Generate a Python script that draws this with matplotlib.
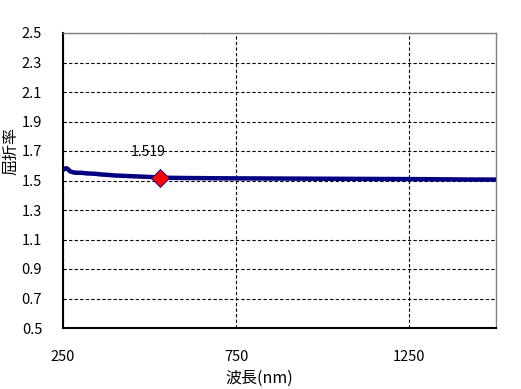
import matplotlib
matplotlib.use("Agg")
import matplotlib.pyplot as plt

plt.rcParams['font.family'] = ['Noto Sans CJK JP', 'DejaVu Sans']

# refractive index curve
wavelength = [250, 255, 260, 265, 270, 280, 290, 300, 320, 340, 360, 380, 400,
              430, 460, 500, 530, 600, 700, 800, 900, 1000, 1100, 1200, 1300,
              1400, 1500]
n_index = [1.572, 1.580, 1.583, 1.576, 1.562, 1.555, 1.552, 1.553, 1.548,
           1.546, 1.541, 1.538, 1.534, 1.531, 1.528, 1.524, 1.519, 1.517,
           1.515, 1.514, 1.513, 1.512, 1.511, 1.510, 1.509, 1.507, 1.506]

marker_wl = 530
marker_n = 1.519
marker_label = '1.519'

x_ticks = [250, 750, 1250]
y_ticks = [0.5, 0.7, 0.9, 1.1, 1.3, 1.5, 1.7, 1.9, 2.1, 2.3, 2.5]

fig = plt.figure(figsize=(5.21, 3.89), dpi=100)
ax = fig.add_axes([63 / 521, 1 - 328 / 389, (496 - 63) / 521, (328 - 33) / 389])

ax.plot(wavelength, n_index, color='#000080', linewidth=3.2, zorder=3)
ax.plot([marker_wl], [marker_n], marker='D', markersize=9,
        markerfacecolor='#ff0000', markeredgecolor='#0000a0',
        markeredgewidth=0.6, linestyle='none', zorder=4)
ax.text(marker_wl - 34, marker_n + 0.175, marker_label, fontsize=10,
        ha='center', va='center', color='#000000')

ax.set_xlim(250, 1500)
ax.set_ylim(0.5, 2.5)
ax.set_xticks(x_ticks)
ax.set_yticks(y_ticks)
ax.set_yticklabels([f'{v:.1f}' for v in y_ticks])
ax.tick_params(length=0, labelsize=10.5, pad=15)
ax.tick_params(axis='x', pad=16)

ax.grid(True, color='black', linestyle=(0, (3, 2)), linewidth=0.8)
ax.set_axisbelow(True)

for side in ['left', 'bottom']:
    ax.spines[side].set_color('black')
    ax.spines[side].set_linewidth(1.5)
for side in ['top', 'right']:
    ax.spines[side].set_color('#808080')
    ax.spines[side].set_linewidth(1.0)

ax.set_xlabel('波長(nm)', fontsize=11.5)
ax.set_ylabel('屈折率', fontsize=11.5)
ax.xaxis.set_label_coords((259 - 63) / 433, (328 - 378) / 295)
ax.yaxis.set_label_coords((11 - 63) / 433, (328 - 151) / 295)
ax.xaxis.label.set_va('center')
ax.yaxis.label.set_va('center')

fig.savefig('out.png', dpi=100)
